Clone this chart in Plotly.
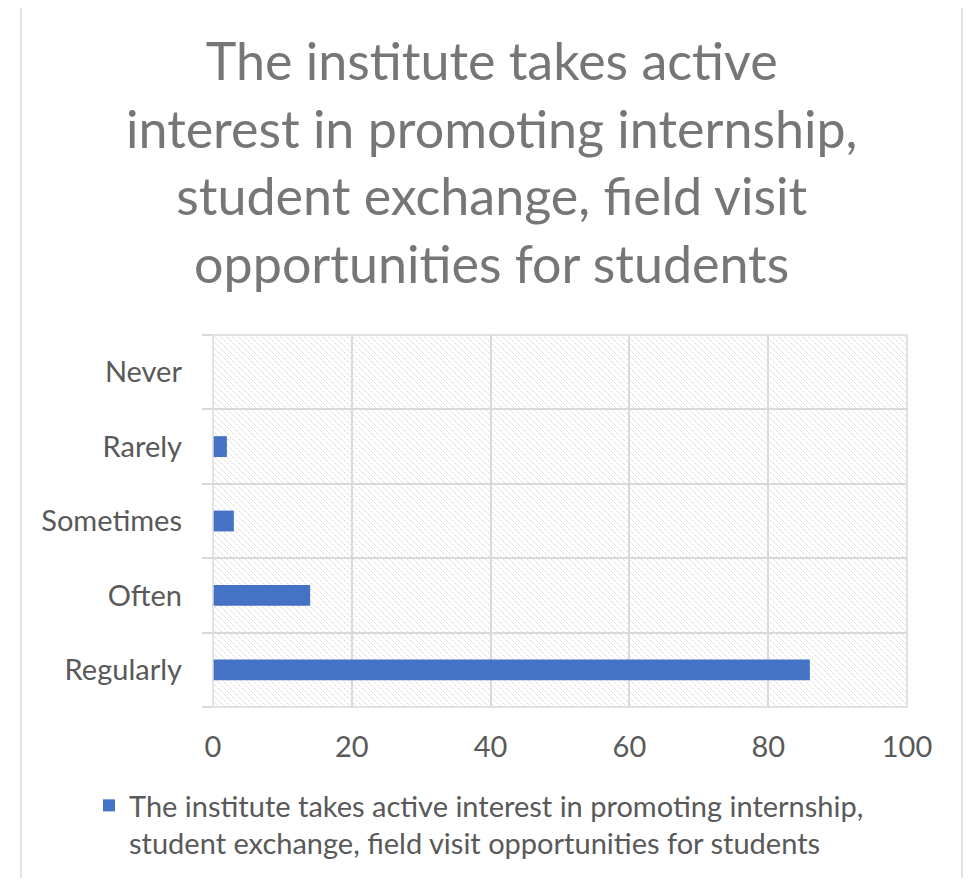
import base64
import plotly.graph_objects as go

categories = ["Regularly", "Often", "Sometimes", "Rarely", "Never"]
values = [86, 14, 3, 2, 0]
series_name = ("The institute takes active interest in promoting internship,<br>"
               "student exchange, field visit opportunities for students")
title_text = ("The institute takes active<br>interest in promoting internship,<br>"
              "student exchange, field visit<br>opportunities for students")
x_ticks = [0, 20, 40, 60, 80, 100]

# figure sits 8px in from the page edge (body margin)
W, H = 960, 870
L, T = 205, 327
PR, PB = 899, 699
R, B = W - PR, H - PB
pw, ph = PR - L, PB - T

FONT = "Lato"
GRID = "#d9d9d9"
TXT = "#595959"

svg = (
    f"<svg xmlns='http://www.w3.org/2000/svg' width='{pw}' height='{ph}'>"
    "<defs><pattern id='p' width='6' height='6' patternUnits='userSpaceOnUse'>"
    "<path d='M-1,-1 L7,7 M-1,5 L1,7 M5,-1 L7,1' stroke='#cdcdcd' "
    "stroke-width='1' stroke-dasharray='1.2,0.9'/>"
    "</pattern></defs><rect width='100%' height='100%' fill='url(#p)'/></svg>"
)
src = "data:image/svg+xml;base64," + base64.b64encode(svg.encode()).decode()

fig = go.Figure(
    go.Bar(
        x=values, y=categories, orientation="h",
        marker=dict(color="#4472C4", line=dict(width=0)),
        name=series_name, showlegend=True,
    )
)

def px_x(p):
    return (p - L) / pw

def px_y(p):
    return (PB - p) / ph

fig.update_layout(
    width=W, height=H,
    margin=dict(l=L, r=R, t=T, b=B),
    paper_bgcolor="white",
    plot_bgcolor="rgba(0,0,0,0)",
    bargap=0.72,
    annotations=[dict(
        text=title_text, showarrow=False,
        xref="paper", yref="paper", x=px_x(483), y=px_y(153),
        xanchor="center", yanchor="middle",
        font=dict(family=FONT, size=52, color="#767676"),
    )],
    xaxis=dict(
        range=[0, 100], tickvals=x_ticks, showgrid=True, gridcolor=GRID,
        gridwidth=1.5, zeroline=False, showline=False, ticks="",
        tickfont=dict(family=FONT, size=29, color=TXT),
        ticklabelstandoff=20,
    ),
    yaxis=dict(
        categoryorder="array", categoryarray=categories,
        tickson="boundaries", showgrid=True, gridcolor=GRID, gridwidth=1.5,
        ticks="outside", ticklen=10, tickcolor=GRID, tickwidth=1.5,
        showline=False, zeroline=False,
        tickfont=dict(family=FONT, size=29, color=TXT),
        ticklabelstandoff=30,
    ),
    legend=dict(
        orientation="h", x=81 / W, xref="container", xanchor="left",
        y=1 - 772 / H, yref="container", yanchor="top",
        font=dict(family=FONT, size=29, color=TXT), valign="top",
        bgcolor="rgba(0,0,0,0)",
    ),
    images=[dict(
        source=src, xref="paper", yref="paper", x=0, y=1, sizex=1, sizey=1,
        xanchor="left", yanchor="top", sizing="stretch", layer="below",
    )],
    shapes=[
        dict(
            type="rect", xref="paper", yref="paper",
            x0=px_x(13), x1=px_x(954), y0=px_y(900), y1=px_y(-4),
            line=dict(color=GRID, width=1.5), fillcolor="rgba(0,0,0,0)",
            layer="below",
        ),
        dict(
            type="rect", xref="paper", yref="paper", x0=0, x1=1, y0=0, y1=1,
            line=dict(color=GRID, width=1.5), fillcolor="rgba(0,0,0,0)",
            layer="above",
        ),
    ],
)

fig.write_html("out.html")
